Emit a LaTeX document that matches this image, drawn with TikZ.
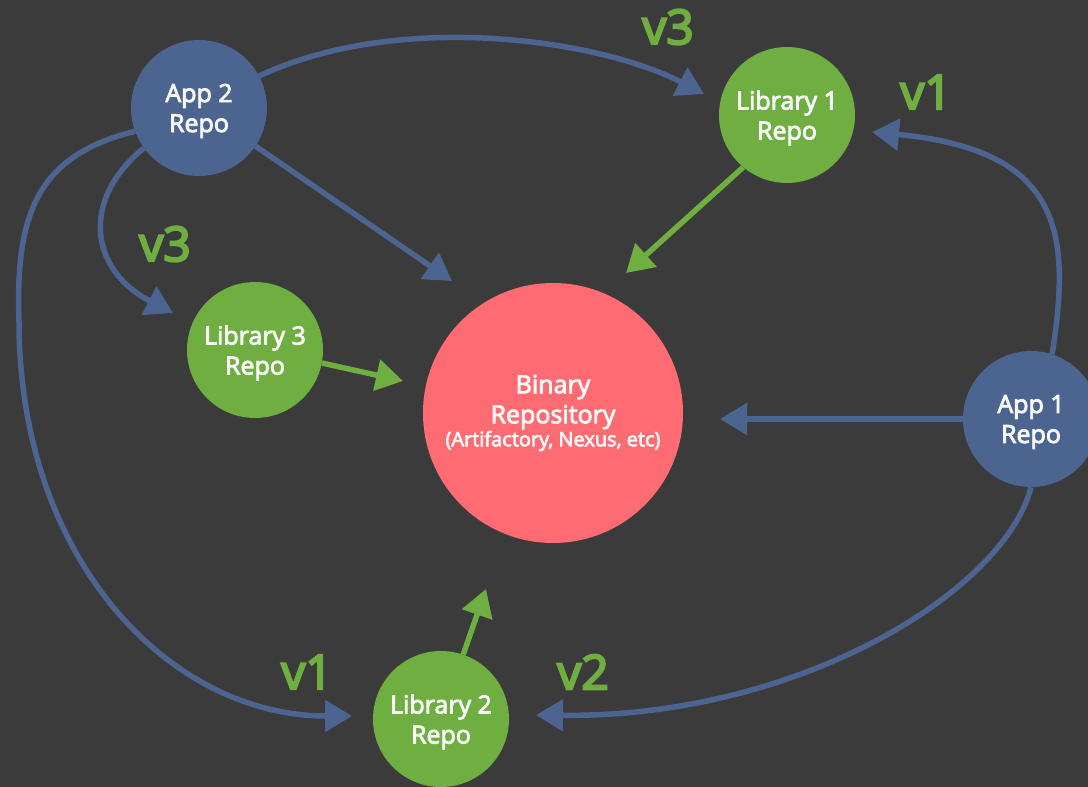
\documentclass[tikz,border=0pt]{standalone}
\usepackage{fontspec}
\setmainfont{Open Sans}[FakeBold=3.4]
\newfontfamily\labelfont{Open Sans}[FakeBold=4.5]
\usetikzlibrary{arrows.meta}
\definecolor{bg}{HTML}{3B3B3B}
\definecolor{appblue}{HTML}{4B6590}
\definecolor{libgreen}{HTML}{6FAE40}
\definecolor{binpink}{HTML}{FF6B72}
\definecolor{txt}{HTML}{F7F7F7}
\tikzset{
  repo/.style={circle, inner sep=0pt, minimum size=136pt, text=txt, align=center,
    font=\fontsize{25}{30}\selectfont, text depth=0pt},
  apprepo/.style={repo, fill=appblue},
  librepo/.style={repo, fill=libgreen},
  binrepo/.style={circle, inner sep=0pt, minimum size=260pt, fill=binpink, text=txt, align=center,
    font=\fontsize{25}{30}\selectfont},
  verlabel/.style={text=libgreen, font=\labelfont\fontsize{48}{50}\selectfont, inner sep=0pt},
  blueconn/.style={draw=appblue, line width=5.5pt, -{Triangle[length=27pt,width=31pt]}},
  greenconn/.style={draw=libgreen, line width=5.5pt, -{Triangle[length=27pt,width=31pt]}},
}
\begin{document}
\begin{tikzpicture}[x=1pt, y=-1pt]
\fill[bg] (0,0) rectangle (1088,787);
\useasboundingbox (0,0) rectangle (1088,787);

% nodes
\node[apprepo] (app2) at (199,108) {App 2\\Repo};
\node[librepo] (lib1) at (787,115) {Library 1\\Repo};
\node[librepo] (lib3) at (255,350) {Library 3\\Repo};
\node[binrepo] (bin) at (553,413) {Binary\\Repository\\[-7pt]{\fontsize{20}{22}\selectfont (Artifactory, Nexus, etc)}};
\node[apprepo] (app1) at (1031,419) {App 1\\Repo};
\node[librepo] (lib2) at (441,719) {Library 2\\Repo};

% arrow tip coordinates
\coordinate (t1) at (704,94);
\coordinate (t2) at (452,281);
\coordinate (t3) at (173,313);
\coordinate (t4) at (352,716);
\coordinate (t5) at (626,273);
\coordinate (t6) at (403,381);
\coordinate (t7) at (720,419);
\coordinate (t8) at (872,132);
\coordinate (t9) at (536,715);
\coordinate (t10) at (486,589);

% connectors from App 2
\draw[blueconn] (app2.28) .. controls (400,10) and (600,40) .. (t1);
\draw[blueconn] (app2.-34) -- (t2);
\draw[blueconn] (app2.216) .. controls (80,200) and (90,270) .. (t3);
\draw[blueconn] (app2.200) .. controls (40,155) and (15,210) .. (19,321)
  .. controls (19,560) and (170,716) .. (t4);

% connectors from libraries
\draw[greenconn] (lib1.230) -- (t5);
\draw[greenconn] (lib3.-11) -- (t6);
\draw[greenconn] (lib2.71) -- (t10);

% connectors from App 1
\draw[blueconn] (app1.west) -- (t7);
\draw[blueconn] (app1.72) .. controls (1072,230) and (1060,150) .. (t8);
\draw[blueconn] (app1.-90) .. controls (1005,590) and (800,718) .. (t9);

% version labels
\node[verlabel] (v3a) at (668,27) {v3};
\node[verlabel] (v1a) at (926,92) {v1};
\node[verlabel] (v3b) at (165,244) {v3};
\node[verlabel] (v1b) at (307,672) {v1};
\node[verlabel] (v2a) at (583,672) {v2};
\end{tikzpicture}
\end{document}
